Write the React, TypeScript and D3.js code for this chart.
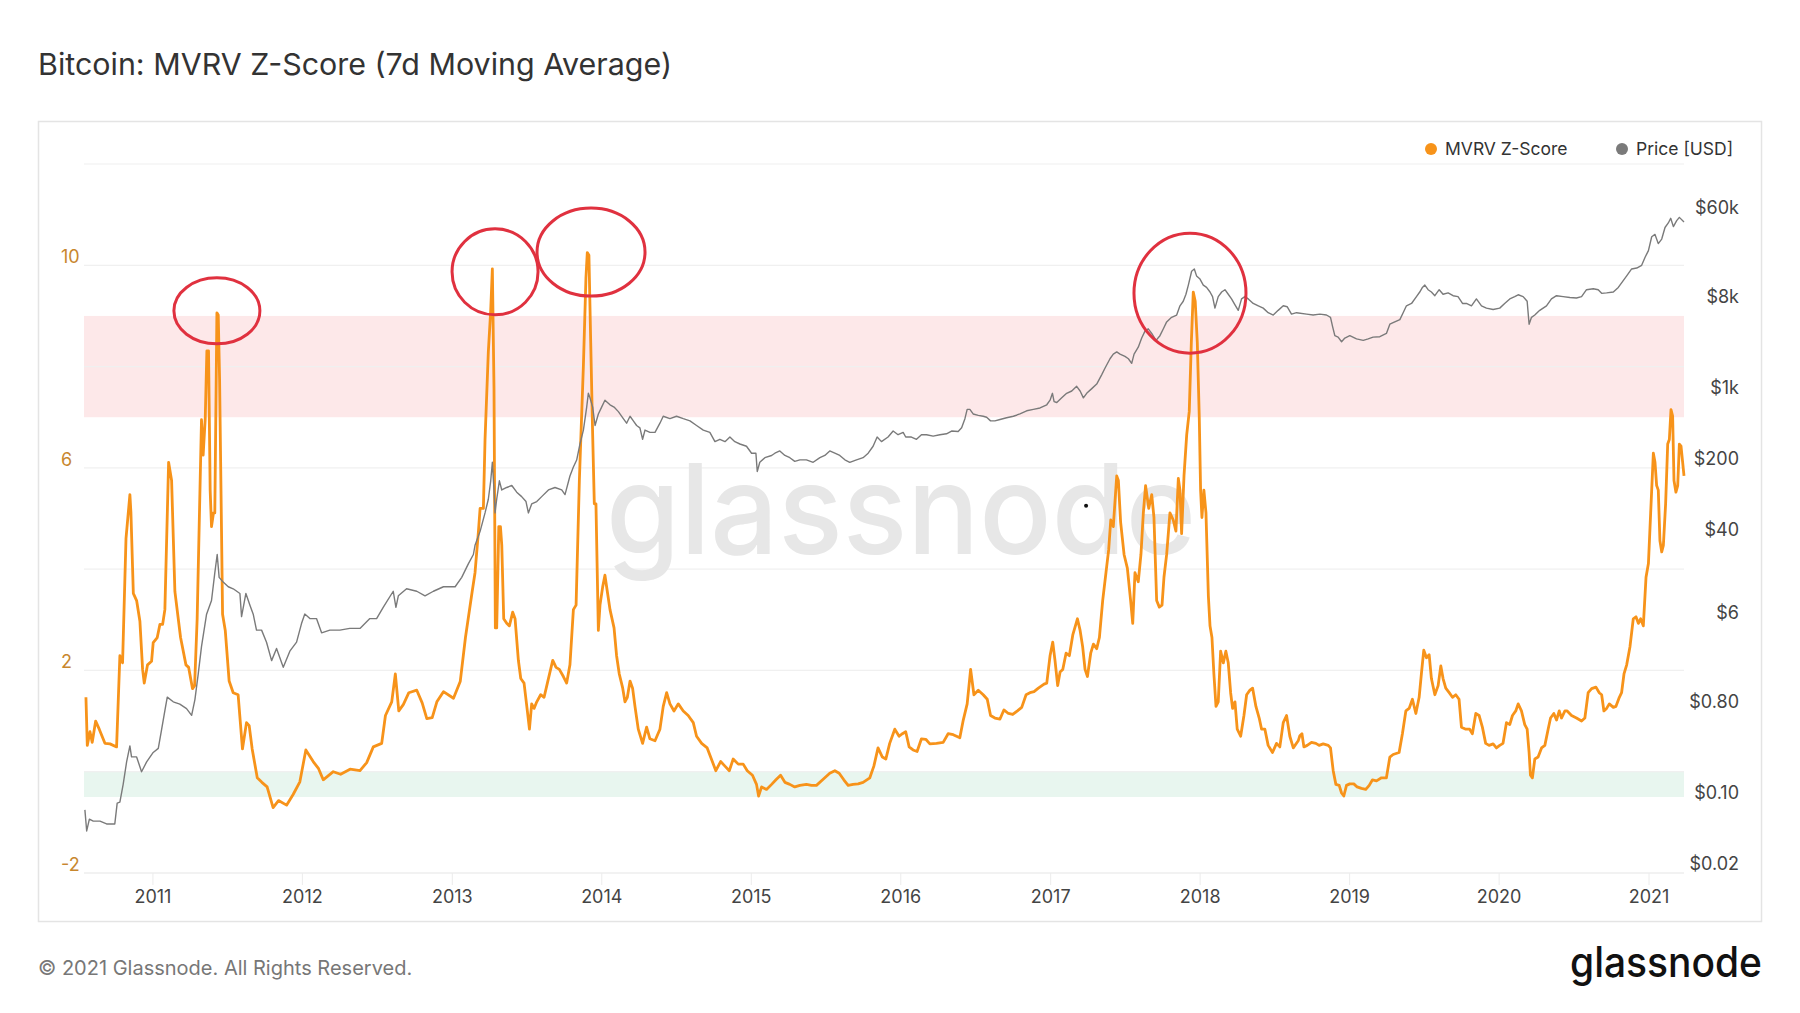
import { useEffect, useRef } from 'react';
import * as d3 from 'd3';

// MVRV Z-Score (7d MA): decimal year -> value
const mvrvYears = [
  2010.552, 2010.561, 2010.579, 2010.594, 2010.617, 2010.641, 2010.679, 2010.713, 2010.757, 2010.779,
  2010.797, 2010.82, 2010.846, 2010.853, 2010.869, 2010.891, 2010.913, 2010.931, 2010.942, 2010.964,
  2010.991, 2011.002, 2011.029, 2011.047, 2011.065, 2011.08, 2011.105, 2011.125, 2011.147, 2011.185,
  2011.221, 2011.239, 2011.265, 2011.279, 2011.296, 2011.325, 2011.336, 2011.35, 2011.361, 2011.372,
  2011.383, 2011.392, 2011.405, 2011.414, 2011.428, 2011.437, 2011.446, 2011.466, 2011.484, 2011.51,
  2011.537, 2011.57, 2011.599, 2011.626, 2011.644, 2011.664, 2011.698, 2011.729, 2011.764, 2011.804,
  2011.84, 2011.894, 2011.938, 2011.983, 2012.023, 2012.072, 2012.108, 2012.139, 2012.206, 2012.255,
  2012.318, 2012.384, 2012.429, 2012.473, 2012.529, 2012.554, 2012.596, 2012.62, 2012.643, 2012.674,
  2012.71, 2012.763, 2012.799, 2012.83, 2012.866, 2012.897, 2012.941, 2013.008, 2013.053, 2013.088,
  2013.133, 2013.152, 2013.175, 2013.186, 2013.208, 2013.219, 2013.241, 2013.257, 2013.268, 2013.279,
  2013.288, 2013.297, 2013.311, 2013.322, 2013.331, 2013.344, 2013.364, 2013.382, 2013.404, 2013.42,
  2013.442, 2013.458, 2013.48, 2013.502, 2013.516, 2013.531, 2013.547, 2013.565, 2013.591, 2013.614,
  2013.636, 2013.672, 2013.694, 2013.716, 2013.743, 2013.765, 2013.787, 2013.81, 2013.828, 2013.85,
  2013.877, 2013.894, 2013.903, 2013.914, 2013.926, 2013.939, 2013.95, 2013.961, 2013.977, 2013.988,
  2014.006, 2014.021, 2014.037, 2014.055, 2014.082, 2014.099, 2014.117, 2014.14, 2014.155, 2014.171,
  2014.189, 2014.206, 2014.222, 2014.244, 2014.273, 2014.3, 2014.322, 2014.356, 2014.389, 2014.411,
  2014.434, 2014.456, 2014.483, 2014.512, 2014.545, 2014.578, 2014.612, 2014.634, 2014.668, 2014.705,
  2014.728, 2014.763, 2014.795, 2014.824, 2014.853, 2014.879, 2014.913, 2014.946, 2014.973, 2015.008,
  2015.035, 2015.049, 2015.069, 2015.102, 2015.136, 2015.165, 2015.196, 2015.225, 2015.258, 2015.291,
  2015.325, 2015.369, 2015.403, 2015.436, 2015.481, 2015.525, 2015.559, 2015.588, 2015.619, 2015.648,
  2015.681, 2015.715, 2015.748, 2015.793, 2015.82, 2015.848, 2015.877, 2015.9, 2015.926, 2015.96,
  2015.989, 2016.011, 2016.033, 2016.056, 2016.082, 2016.109, 2016.138, 2016.167, 2016.194, 2016.238,
  2016.283, 2016.316, 2016.35, 2016.394, 2016.417, 2016.443, 2016.466, 2016.488, 2016.517, 2016.55,
  2016.577, 2016.599, 2016.628, 2016.662, 2016.688, 2016.718, 2016.747, 2016.778, 2016.807, 2016.836,
  2016.862, 2016.889, 2016.918, 2016.956, 2016.974, 2016.996, 2017.014, 2017.029, 2017.047, 2017.063,
  2017.081, 2017.103, 2017.125, 2017.148, 2017.179, 2017.197, 2017.214, 2017.23, 2017.246, 2017.268,
  2017.286, 2017.308, 2017.326, 2017.348, 2017.37, 2017.388, 2017.402, 2017.419, 2017.442, 2017.453,
  2017.468, 2017.491, 2017.513, 2017.535, 2017.549, 2017.564, 2017.586, 2017.604, 2017.62, 2017.635,
  2017.656, 2017.676, 2017.691, 2017.709, 2017.727, 2017.745, 2017.758, 2017.776, 2017.798, 2017.82,
  2017.838, 2017.854, 2017.865, 2017.876, 2017.892, 2017.91, 2017.927, 2017.941, 2017.954, 2017.967,
  2017.981, 2017.994, 2018.003, 2018.012, 2018.025, 2018.039, 2018.055, 2018.066, 2018.079, 2018.092,
  2018.106, 2018.121, 2018.137, 2018.155, 2018.172, 2018.188, 2018.204, 2018.217, 2018.233, 2018.248,
  2018.271, 2018.293, 2018.311, 2018.333, 2018.351, 2018.373, 2018.395, 2018.411, 2018.433, 2018.455,
  2018.484, 2018.511, 2018.533, 2018.556, 2018.578, 2018.6, 2018.623, 2018.656, 2018.667, 2018.681,
  2018.694, 2018.716, 2018.745, 2018.774, 2018.796, 2018.823, 2018.857, 2018.872, 2018.89, 2018.908,
  2018.93, 2018.946, 2018.961, 2018.979, 2019.001, 2019.028, 2019.05, 2019.079, 2019.108, 2019.131,
  2019.153, 2019.18, 2019.213, 2019.246, 2019.269, 2019.291, 2019.331, 2019.353, 2019.376, 2019.398,
  2019.42, 2019.443, 2019.465, 2019.48, 2019.496, 2019.514, 2019.532, 2019.547, 2019.57, 2019.592,
  2019.61, 2019.625, 2019.643, 2019.666, 2019.688, 2019.71, 2019.732, 2019.748, 2019.777, 2019.803,
  2019.821, 2019.844, 2019.866, 2019.888, 2019.91, 2019.933, 2019.96, 2019.982, 2020.004, 2020.026,
  2020.049, 2020.071, 2020.089, 2020.111, 2020.127, 2020.149, 2020.171, 2020.187, 2020.2, 2020.209,
  2020.222, 2020.238, 2020.26, 2020.283, 2020.305, 2020.327, 2020.343, 2020.365, 2020.383, 2020.401,
  2020.416, 2020.439, 2020.454, 2020.483, 2020.516, 2020.55, 2020.572, 2020.594, 2020.617, 2020.646,
  2020.668, 2020.684, 2020.699, 2020.717, 2020.735, 2020.762, 2020.779, 2020.802, 2020.817, 2020.833,
  2020.851, 2020.873, 2020.895, 2020.913, 2020.929, 2020.944, 2020.962, 2020.98, 2020.996, 2021.011,
  2021.029, 2021.04, 2021.051, 2021.062, 2021.073, 2021.085, 2021.096, 2021.111, 2021.125, 2021.136,
  2021.147, 2021.158, 2021.167, 2021.18, 2021.192, 2021.203, 2021.214, 2021.225, 2021.234,
];
const mvrvValues = [
  1.47, 0.52, 0.79, 0.58, 1.0, 0.84, 0.56, 0.55, 0.49, 2.29,
  2.15, 4.61, 5.47, 5.11, 3.52, 3.38, 2.97, 2.02, 1.75, 2.11,
  2.18, 2.55, 2.65, 2.91, 2.91, 3.2, 6.11, 5.75, 3.56, 2.65,
  2.11, 2.06, 1.64, 1.7, 3.02, 6.95, 6.25, 6.97, 8.31, 8.31,
  5.56, 4.84, 5.11, 5.11, 9.06, 9.02, 7.75, 3.11, 2.79, 1.79,
  1.56, 1.52, 0.45, 0.97, 0.91, 0.45, -0.12, -0.21, -0.3, -0.71,
  -0.57, -0.66, -0.45, -0.2, 0.43, 0.2, 0.06, -0.16, 0.0, -0.05,
  0.05, 0.02, 0.18, 0.49, 0.56, 1.11, 1.38, 1.93, 1.2, 1.33,
  1.56, 1.61, 1.36, 1.05, 1.07, 1.38, 1.58, 1.45, 1.78, 2.65,
  3.56, 3.93, 4.75, 5.2, 5.2, 6.56, 8.29, 9.11, 9.93, 7.56,
  2.84, 2.84, 4.84, 4.84, 4.47, 3.02, 2.93, 2.88, 3.15, 3.02,
  2.2, 1.84, 1.75, 1.2, 0.84, 1.34, 1.25, 1.38, 1.52, 1.47,
  1.75, 2.2, 2.06, 2.02, 1.88, 1.75, 2.11, 3.2, 3.29, 5.75,
  8.02, 9.75, 10.25, 10.2, 8.47, 6.65, 5.29, 5.29, 2.79, 3.29,
  3.65, 3.88, 3.56, 3.2, 2.84, 2.29, 1.93, 1.65, 1.38, 1.47,
  1.79, 1.65, 1.29, 0.84, 0.56, 0.88, 0.65, 0.61, 0.84, 1.29,
  1.56, 1.34, 1.2, 1.34, 1.2, 1.11, 0.97, 0.7, 0.56, 0.47,
  0.29, 0.02, 0.2, 0.11, 0.02, 0.25, 0.15, 0.15, 0.02, -0.07,
  -0.25, -0.48, -0.3, -0.35, -0.25, -0.16, -0.07, -0.21, -0.25, -0.3,
  -0.27, -0.25, -0.27, -0.27, -0.15, -0.03, 0.02, -0.03, -0.16, -0.27,
  -0.25, -0.24, -0.21, -0.12, 0.11, 0.47, 0.29, 0.25, 0.56, 0.84,
  0.7, 0.75, 0.79, 0.49, 0.43, 0.4, 0.65, 0.64, 0.55, 0.56,
  0.58, 0.75, 0.73, 0.67, 1.02, 1.34, 2.02, 1.52, 1.61, 1.52,
  1.43, 1.11, 1.06, 1.04, 1.22, 1.15, 1.13, 1.2, 1.27, 1.52,
  1.56, 1.58, 1.65, 1.73, 1.75, 2.29, 2.56, 2.2, 1.7, 1.97,
  2.02, 2.34, 2.29, 2.7, 3.02, 2.79, 2.47, 2.02, 1.88, 2.34,
  2.52, 2.43, 2.65, 3.38, 3.93, 4.38, 4.97, 4.84, 5.84, 5.75,
  4.93, 4.29, 4.02, 3.38, 2.93, 3.93, 3.75, 4.29, 5.11, 5.65,
  5.2, 5.47, 5.02, 3.38, 3.25, 3.29, 3.84, 4.29, 5.11, 4.97,
  4.75, 5.79, 5.56, 4.7, 5.84, 6.65, 7.11, 8.47, 9.47, 9.29,
  8.47, 7.02, 5.56, 5.02, 5.56, 5.11, 3.47, 2.88, 2.65, 1.93,
  1.29, 1.38, 2.38, 2.15, 2.38, 2.15, 1.56, 1.25, 1.38, 0.84,
  0.7, 1.11, 1.52, 1.61, 1.65, 1.29, 1.06, 0.84, 0.84, 0.52,
  0.38, 0.56, 0.49, 0.97, 1.11, 0.7, 0.47, 0.61, 0.71, 0.75,
  0.49, 0.52, 0.58, 0.56, 0.52, 0.55, 0.52, 0.47, 0.02, -0.25,
  -0.27, -0.42, -0.48, -0.27, -0.24, -0.24, -0.3, -0.33, -0.35, -0.27,
  -0.16, -0.18, -0.12, -0.12, 0.29, 0.34, 0.38, 0.75, 1.2, 1.25,
  1.43, 1.15, 1.47, 1.93, 2.4, 2.25, 2.31, 1.84, 1.52, 1.7,
  2.09, 1.84, 1.65, 1.56, 1.47, 1.52, 1.43, 0.88, 0.84, 0.84,
  0.75, 1.15, 1.11, 0.88, 0.56, 0.52, 0.55, 0.47, 0.52, 0.56,
  0.97, 0.93, 1.11, 1.2, 1.34, 1.2, 0.93, 0.84, 0.38, -0.07,
  -0.12, 0.25, 0.29, 0.47, 0.52, 0.84, 1.06, 1.15, 1.02, 1.2,
  1.06, 1.2, 1.2, 1.11, 1.06, 1.0, 1.06, 1.56, 1.64, 1.67,
  1.56, 1.52, 1.2, 1.25, 1.34, 1.27, 1.29, 1.47, 1.56, 1.93,
  2.11, 2.47, 3.02, 3.06, 2.93, 3.02, 2.88, 3.84, 4.11, 5.11,
  6.29, 6.11, 5.65, 5.56, 4.56, 4.34, 4.47, 5.29, 6.47, 6.56,
  7.15, 7.02, 5.75, 5.52, 5.65, 6.47, 6.43, 6.11, 5.84,
];

// Price [USD]: decimal year -> value
const priceYears = [
  2010.545, 2010.557, 2010.575, 2010.601, 2010.646, 2010.69, 2010.745, 2010.761, 2010.779, 2010.801,
  2010.824, 2010.846, 2010.857, 2010.891, 2010.924, 2010.958, 2011.002, 2011.036, 2011.058, 2011.08,
  2011.096, 2011.136, 2011.18, 2011.225, 2011.259, 2011.281, 2011.303, 2011.325, 2011.359, 2011.392,
  2011.414, 2011.43, 2011.443, 2011.47, 2011.504, 2011.537, 2011.582, 2011.593, 2011.622, 2011.649,
  2011.671, 2011.693, 2011.727, 2011.76, 2011.794, 2011.827, 2011.872, 2011.916, 2011.961, 2011.994,
  2012.016, 2012.05, 2012.094, 2012.128, 2012.183, 2012.25, 2012.316, 2012.384, 2012.45, 2012.495,
  2012.539, 2012.606, 2012.624, 2012.64, 2012.695, 2012.763, 2012.818, 2012.874, 2012.941, 2013.019,
  2013.063, 2013.108, 2013.141, 2013.152, 2013.186, 2013.219, 2013.241, 2013.257, 2013.268, 2013.279,
  2013.286, 2013.297, 2013.315, 2013.331, 2013.364, 2013.398, 2013.431, 2013.464, 2013.493, 2013.509,
  2013.531, 2013.565, 2013.598, 2013.643, 2013.687, 2013.732, 2013.754, 2013.787, 2013.81, 2013.832,
  2013.854, 2013.877, 2013.899, 2013.91, 2013.921, 2013.939, 2013.955, 2013.977, 2013.999, 2014.021,
  2014.055, 2014.082, 2014.111, 2014.144, 2014.166, 2014.189, 2014.211, 2014.233, 2014.255, 2014.273,
  2014.289, 2014.322, 2014.356, 2014.389, 2014.411, 2014.456, 2014.5, 2014.545, 2014.59, 2014.634,
  2014.679, 2014.723, 2014.757, 2014.79, 2014.824, 2014.857, 2014.89, 2014.924, 2014.968, 2015.002,
  2015.031, 2015.04, 2015.057, 2015.091, 2015.136, 2015.158, 2015.191, 2015.225, 2015.258, 2015.291,
  2015.325, 2015.369, 2015.414, 2015.459, 2015.492, 2015.525, 2015.559, 2015.592, 2015.626, 2015.659,
  2015.704, 2015.748, 2015.782, 2015.815, 2015.842, 2015.871, 2015.915, 2015.949, 2015.982, 2016.016,
  2016.033, 2016.071, 2016.105, 2016.138, 2016.172, 2016.216, 2016.261, 2016.305, 2016.339, 2016.383,
  2016.406, 2016.428, 2016.443, 2016.461, 2016.483, 2016.517, 2016.55, 2016.573, 2016.599, 2016.628,
  2016.662, 2016.706, 2016.751, 2016.795, 2016.84, 2016.885, 2016.929, 2016.974, 2016.996, 2017.012,
  2017.023, 2017.041, 2017.074, 2017.107, 2017.141, 2017.174, 2017.197, 2017.219, 2017.241, 2017.275,
  2017.308, 2017.341, 2017.364, 2017.397, 2017.419, 2017.442, 2017.464, 2017.497, 2017.52, 2017.542,
  2017.558, 2017.586, 2017.609, 2017.631, 2017.653, 2017.676, 2017.705, 2017.731, 2017.754, 2017.776,
  2017.809, 2017.843, 2017.865, 2017.887, 2017.905, 2017.921, 2017.943, 2017.961, 2017.976, 2017.999,
  2018.021, 2018.043, 2018.066, 2018.083, 2018.099, 2018.121, 2018.144, 2018.166, 2018.188, 2018.21,
  2018.233, 2018.255, 2018.277, 2018.299, 2018.322, 2018.355, 2018.389, 2018.422, 2018.455, 2018.489,
  2018.522, 2018.556, 2018.582, 2018.611, 2018.645, 2018.712, 2018.756, 2018.801, 2018.845, 2018.872,
  2018.886, 2018.901, 2018.923, 2018.946, 2018.968, 2019.001, 2019.046, 2019.091, 2019.124, 2019.157,
  2019.202, 2019.246, 2019.269, 2019.302, 2019.336, 2019.358, 2019.38, 2019.414, 2019.447, 2019.469,
  2019.487, 2019.503, 2019.525, 2019.547, 2019.57, 2019.599, 2019.625, 2019.659, 2019.692, 2019.725,
  2019.755, 2019.781, 2019.815, 2019.848, 2019.882, 2019.915, 2019.96, 2020.004, 2020.037, 2020.071,
  2020.104, 2020.127, 2020.16, 2020.187, 2020.2, 2020.216, 2020.238, 2020.271, 2020.316, 2020.349,
  2020.383, 2020.427, 2020.472, 2020.516, 2020.55, 2020.583, 2020.628, 2020.661, 2020.684, 2020.717,
  2020.762, 2020.795, 2020.817, 2020.851, 2020.884, 2020.918, 2020.951, 2020.973, 2020.996, 2021.018,
  2021.04, 2021.062, 2021.085, 2021.107, 2021.129, 2021.145, 2021.163, 2021.185, 2021.203, 2021.234,
];
const priceValues = [
  0.084, 0.052, 0.068, 0.065, 0.065, 0.061, 0.061, 0.098, 0.1, 0.15,
  0.25, 0.36, 0.28, 0.28, 0.2, 0.25, 0.31, 0.34, 0.52, 0.8,
  1.09, 0.98, 0.93, 0.84, 0.72, 1.03, 1.84, 3.44, 7.18, 9.8,
  18.4, 27.9, 16.6, 14.9, 13.4, 12.8, 11.5, 6.8, 11.5, 8.8,
  7.18, 5.0, 5.0, 3.8, 2.5, 3.3, 2.15, 3.1, 3.8, 5.8,
  7.2, 6.5, 6.5, 4.7, 5.0, 5.0, 5.2, 5.2, 6.5, 6.5,
  8.4, 12.1, 8.4, 10.9, 12.8, 12.1, 10.9, 12.1, 13.4, 13.4,
  16.6, 22.7, 27.9, 34.4, 47.2, 71.8, 98, 149, 227, 121,
  71.8, 98, 149, 121, 128, 134, 115, 104, 93, 71.8,
  88, 93, 104, 121, 128, 121, 109, 166, 204, 239,
  344, 472, 796, 1089, 982, 796, 524, 681, 796, 931,
  839, 796, 718, 612, 552, 646, 582, 524, 497, 383,
  472, 448, 448, 552, 646, 612, 646, 612, 582, 524,
  472, 448, 363, 383, 363, 403, 363, 344, 327, 279,
  279, 184, 227, 252, 265, 279, 294, 265, 252, 232,
  240, 240, 227, 252, 265, 294, 279, 265, 240, 227,
  240, 252, 279, 327, 403, 363, 403, 462, 425, 448,
  403, 403, 383, 425, 425, 412, 425, 434, 462, 457,
  497, 612, 755, 755, 681, 659, 646, 632, 582, 582,
  600, 625, 646, 681, 732, 755, 780, 839, 931, 1089,
  903, 884, 982, 1089, 1148, 1276, 1148, 982, 1089, 1211,
  1343, 1656, 1937, 2388, 2655, 2793, 2655, 2518, 2388, 2153,
  2655, 3105, 3828, 4477, 4721, 4246, 3631, 4036, 4721, 5521,
  6124, 6457, 7962, 8831, 10350, 12760, 17460, 18400, 15710, 14610,
  12760, 12100, 10890, 9817, 7551, 9817, 10890, 11480, 10350, 9311,
  8128, 7178, 9311, 9817, 9311, 8395, 7962, 7551, 6808, 6457,
  7178, 7962, 7798, 6592, 6808, 6592, 6457, 6592, 6457, 6124,
  4966, 4036, 3908, 3516, 3828, 4036, 3750, 3631, 3750, 3908,
  3946, 4246, 5236, 5521, 5821, 6808, 7962, 8395, 9817, 10890,
  12100, 12760, 11480, 10890, 10020, 11480, 10350, 10670, 10020, 9817,
  8395, 8395, 7962, 9311, 7962, 7551, 7328, 7551, 8395, 9311,
  9817, 10230, 9817, 8831, 5236, 6124, 6457, 7178, 7962, 9311,
  10020, 9817, 9612, 9503, 9817, 11480, 11720, 11480, 10570, 10670,
  10890, 12100, 13430, 15710, 18400, 18790, 20000, 23880, 27930, 38280,
  40360, 32730, 36310, 47200, 52360, 58210, 48190, 55200, 59430, 53460,
];

const xStart = 2010.539;
const xEnd = 2021.234;
const yearTicks = [2011, 2012, 2013, 2014, 2015, 2016, 2017, 2018, 2019, 2020, 2021];
const zGrid = [-2, 0, 2, 4, 6, 8, 10, 12];
const zLabels = [-2, 2, 6, 10];
const priceTicks = [0.02, 0.1, 0.8, 6, 40, 200, 1000, 8000, 60000];
const priceTickLabels = ['$0.02', '$0.10', '$0.80', '$6', '$40', '$200', '$1k', '$8k', '$60k'];
const redBand = [7, 9];
const greenBand = [-0.5, 0];

// hand-drawn red rings around the tops: [decimal year, z-score, rx, ry]
const rings = [
  [2011.428, 9.1, 43, 33],
  [2013.286, 9.87, 43, 43],
  [2013.928, 10.26, 54, 44],
  [2017.932, 9.45, 56, 60],
];

const toDate = (y: number) => {
  const yr = Math.floor(y);
  const a = Date.UTC(yr, 0, 1);
  const b = Date.UTC(yr + 1, 0, 1);
  return new Date(a + (y - yr) * (b - a));
};

const FONT = 'Inter, "Noto Sans", sans-serif';

const App: React.FC = () => {
  const svgRef = useRef<SVGSVGElement | null>(null);

  useEffect(() => {
    if (!svgRef.current) return;
    const svg = d3.select(svgRef.current);
    svg.selectAll('*').remove();

    const left = 84;
    const right = 1684;
    const top = 164;
    const bottom = 873;

    const x = d3.scaleUtc().domain([toDate(xStart), toDate(xEnd)]).range([left, right]);
    const yZ = d3.scaleLinear().domain([-2, 12]).range([bottom, top]);
    const yP = d3.scaleLog().domain([0.02, 200000]).range([bottom, top]);

    svg.append('rect').attr('width', 1800).attr('height', 1013).attr('fill', '#fff');

    svg
      .append('text')
      .attr('x', 38)
      .attr('y', 75)
      .attr('font-family', FONT)
      .attr('font-size', 30)
      .attr('font-weight', 400)
      .attr('fill', '#333')
      .attr('textLength', 634)
      .attr('lengthAdjust', 'spacingAndGlyphs')
      .text('Bitcoin: MVRV Z-Score (7d Moving Average)');

    svg
      .append('rect')
      .attr('x', 38.5)
      .attr('y', 121.5)
      .attr('width', 1723)
      .attr('height', 800)
      .attr('fill', 'none')
      .attr('stroke', '#e4e4e4')
      .attr('stroke-width', 1.5);

    // bands
    svg
      .append('rect')
      .attr('x', left)
      .attr('width', right - left)
      .attr('y', yZ(redBand[1]))
      .attr('height', yZ(redBand[0]) - yZ(redBand[1]))
      .attr('fill', '#fde8e9');
    svg
      .append('rect')
      .attr('x', left)
      .attr('width', right - left)
      .attr('y', yZ(greenBand[1]))
      .attr('height', yZ(greenBand[0]) - yZ(greenBand[1]))
      .attr('fill', '#e8f6ef');

    // grid
    svg
      .append('g')
      .selectAll('line')
      .data(zGrid)
      .join('line')
      .attr('x1', left)
      .attr('x2', right)
      .attr('y1', (d) => yZ(d))
      .attr('y2', (d) => yZ(d))
      .attr('stroke', (d) => (d === -2 ? '#e6e6e6' : '#f0f0f0'))
      .attr('stroke-width', 1.2);

    // year ticks + labels
    const xt = svg.append('g');
    xt.selectAll('line')
      .data(yearTicks)
      .join('line')
      .attr('x1', (d) => x(toDate(d)))
      .attr('x2', (d) => x(toDate(d)))
      .attr('y1', bottom)
      .attr('y2', bottom + 12)
      .attr('stroke', '#ececec');
    xt.selectAll('text')
      .data(yearTicks)
      .join('text')
      .attr('x', (d) => x(toDate(d)))
      .attr('y', 903)
      .attr('text-anchor', 'middle')
      .attr('font-family', FONT)
      .attr('font-size', 18)
      .attr('fill', '#444')
      .text((d) => String(d));

    // watermark
    svg
      .append('text')
      .attr('x', 606)
      .attr('y', 554)
      .attr('font-family', FONT)
      .attr('font-size', 125)
      .attr('font-weight', 500)
      .attr('fill', '#e7e7e7')
      .attr('textLength', 590)
      .attr('lengthAdjust', 'spacingAndGlyphs')
      .text('glassnode');

    // left axis labels
    svg
      .append('g')
      .selectAll('text')
      .data(zLabels)
      .join('text')
      .attr('x', 61)
      .attr('y', (d) => yZ(d) - 2)
      .attr('font-family', FONT)
      .attr('font-size', 18)
      .attr('fill', '#c8872e')
      .text((d) => String(d));

    // right axis labels
    svg
      .append('g')
      .selectAll('text')
      .data(priceTicks)
      .join('text')
      .attr('x', 1739)
      .attr('y', (d) => yP(d) - 3)
      .attr('text-anchor', 'end')
      .attr('font-family', FONT)
      .attr('font-size', 18)
      .attr('fill', '#444')
      .text((_, i) => priceTickLabels[i]);

    // MVRV line
    const zLine = d3
      .line<number>()
      .x((_, i) => x(toDate(mvrvYears[i])))
      .y((d) => yZ(d));
    svg
      .append('path')
      .attr('d', zLine(mvrvValues))
      .attr('fill', 'none')
      .attr('stroke', '#f7931a')
      .attr('stroke-width', 2.8)
      .attr('stroke-linejoin', 'round');

    // price line
    const pLine = d3
      .line<number>()
      .x((_, i) => x(toDate(priceYears[i])))
      .y((d) => yP(d));
    svg
      .append('path')
      .attr('d', pLine(priceValues))
      .attr('fill', 'none')
      .attr('stroke', '#7a7a7a')
      .attr('stroke-width', 1.4)
      .attr('stroke-linejoin', 'round');

    // rings
    svg
      .append('g')
      .selectAll('ellipse')
      .data(rings)
      .join('ellipse')
      .attr('cx', (d) => x(toDate(d[0])))
      .attr('cy', (d) => yZ(d[1]))
      .attr('rx', (d) => d[2])
      .attr('ry', (d) => d[3])
      .attr('fill', 'none')
      .attr('stroke', '#e0313f')
      .attr('stroke-width', 3);

    // stray dot
    svg
      .append('circle')
      .attr('cx', x(toDate(2017.237)))
      .attr('cy', yZ(5.25))
      .attr('r', 2)
      .attr('fill', '#111');

    // legend
    const legend = [
      { label: 'MVRV Z-Score', color: '#f7931a', cx: 1431 },
      { label: 'Price [USD]', color: '#7a7a7a', cx: 1622 },
    ];
    const lg = svg.append('g');
    legend.forEach((l) => {
      lg.append('circle').attr('cx', l.cx).attr('cy', 149).attr('r', 6).attr('fill', l.color);
      lg.append('text')
        .attr('x', l.cx + 14)
        .attr('y', 155)
        .attr('font-family', FONT)
        .attr('font-size', 17.5)
        .attr('fill', '#333')
        .text(l.label);
    });

    // footer
    svg
      .append('text')
      .attr('x', 38)
      .attr('y', 975)
      .attr('font-family', FONT)
      .attr('font-size', 20)
      .attr('fill', '#777')
      .text('© 2021 Glassnode. All Rights Reserved.');
    svg
      .append('text')
      .attr('x', 1570)
      .attr('y', 977)
      .attr('font-family', FONT)
      .attr('font-size', 42)
      .attr('font-weight', 500)
      .attr('fill', '#111')
      .attr('textLength', 192)
      .attr('lengthAdjust', 'spacingAndGlyphs')
      .text('glassnode');
  }, []);

  return (
    <svg
      ref={svgRef}
      width={1800}
      height={1013}
      style={{ position: 'absolute', left: 0, top: 0 }}
    ></svg>
  );
};

export default App;
